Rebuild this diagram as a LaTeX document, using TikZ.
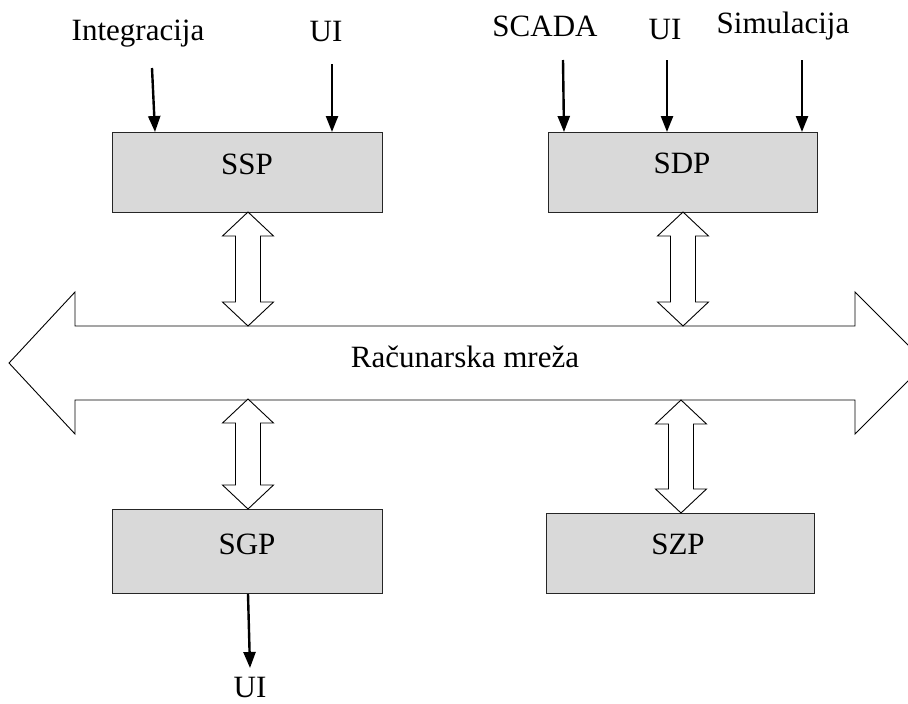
\documentclass[tikz,border=0pt]{standalone}
\usepackage{fontspec}
\setmainfont{Liberation Serif}
\usetikzlibrary{arrows.meta}
\definecolor{boxgray}{HTML}{D9D9D9}
\tikzset{
  box/.style={draw=black!85, line width=1pt, fill=boxgray, anchor=north west, inner sep=0pt},
  lbl/.style={anchor=base, inner sep=0pt, font=\fontsize{31}{36}\selectfont},
  inarrow/.style={line width=2.4pt, -{Triangle[length=16pt,width=12pt]}},
  blockarrow/.style={draw=black, line width=0.9pt, fill=white, line join=miter}
}
\newcommand\vdbl[3]{\draw[blockarrow] (#1,#2) -- (#1+25.5,#2+24) -- (#1+12.5,#2+24) -- (#1+12.5,#3-24) -- (#1+25.5,#3-24) -- (#1,#3) -- (#1-25.5,#3-24) -- (#1-12.5,#3-24) -- (#1-12.5,#2+24) -- (#1-25.5,#2+24) -- cycle;}
\begin{document}
\begin{tikzpicture}[x=1pt,y=-1pt]
\useasboundingbox (0,0) rectangle (908,704);
\begin{scope}
\clip (0,0) rectangle (908,704);
% network arrow
\draw[blockarrow] (9,363) -- (75,292) -- (75,326) -- (855,326) -- (855,292) -- (926,363) -- (855,434) -- (855,400) -- (75,400) -- (75,434) -- cycle;
\end{scope}
\node[lbl] (net) at (465,367) {Računarska mreža};
% boxes
\node[box, minimum width=270pt, minimum height=80pt] (ssp) at (112,132) {};
\node[box, minimum width=269pt, minimum height=80pt] (sdp) at (548,132) {};
\node[box, minimum width=270pt, minimum height=84pt] (sgp) at (112,509) {};
\node[box, minimum width=268pt, minimum height=80pt] (szp) at (546,513) {};
\node[lbl] (tssp) at (247,174) {SSP};
\node[lbl] (tsdp) at (682,173) {SDP};
\node[lbl] (tsgp) at (247,554) {SGP};
\node[lbl] (tszp) at (678,554) {SZP};
% block arrows
\vdbl{248}{212}{326}
\vdbl{683}{212}{326}
\vdbl{248}{399}{509}
\vdbl{681}{400}{513}
% input labels
\node[lbl] (lint) at (138,40) {Integracija};
\node[lbl] (lui1) at (326,41) {UI};
\node[lbl] (lsc) at (545,36) {SCADA};
\node[lbl] (lui2) at (665,39) {UI};
\node[lbl] (lsim) at (783,34) {Simulacija};
\node[lbl] (lui3) at (250,697) {UI};
% input arrows
\coordinate (a1) at (152,68);
\coordinate (a2) at (332,64);
\coordinate (a3) at (563,60);
\coordinate (a4) at (667,60);
\coordinate (a5) at (802,60);
\coordinate (a6) at (250,668);
\draw[inarrow] (a1) -- ([xshift=3pt]a1 |- ssp.north);
\draw[inarrow] (a2) -- (a2 |- ssp.north);
\draw[inarrow] (a3) -- ([xshift=1pt]a3 |- sdp.north);
\draw[inarrow] (a4) -- (a4 |- sdp.north);
\draw[inarrow] (a5) -- (a5 |- sdp.north);
\draw[inarrow] ([xshift=-2pt]a6 |- sgp.south) -- (a6);
\end{tikzpicture}
\end{document}
